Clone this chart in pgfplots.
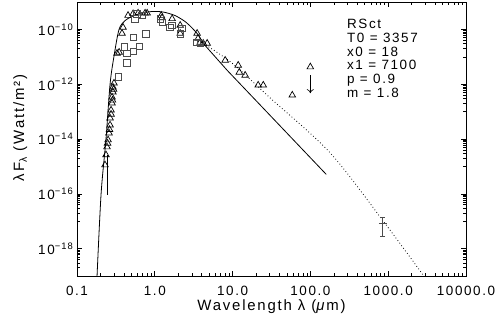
\documentclass[border=0pt]{standalone}
\usepackage{fontspec}
\setmainfont{Liberation Sans}[LetterSpace=12]
\usepackage{pgfplots}
\pgfplotsset{compat=1.18}
\usetikzlibrary{arrows.meta}

\begin{document}
\begin{tikzpicture}
\begin{axis}[
  name=ax,
  width=389bp, height=274bp, scale only axis,
  xmode=log, ymode=log,
  xmin=0.1, xmax=10000, ymin=1e-19, ymax=1e-9,
  xtick={0.1,1,10,100,1000,10000},
  xticklabels={0.1,1.0,10.0,100.0,1000.0,10000.0},
  ytick={1e-18,1e-16,1e-14,1e-12,1e-10},
  yticklabels={10\textsuperscript{−18},10\textsuperscript{−16},10\textsuperscript{−14},10\textsuperscript{−12},10\textsuperscript{−10}},
  minor ytick={1e-19,2e-19,3e-19,4e-19,5e-19,6e-19,7e-19,8e-19,9e-19,
    1e-17,2e-17,3e-17,4e-17,5e-17,6e-17,7e-17,8e-17,9e-17,
    1e-15,2e-15,3e-15,4e-15,5e-15,6e-15,7e-15,8e-15,9e-15,
    1e-13,2e-13,3e-13,4e-13,5e-13,6e-13,7e-13,8e-13,9e-13,
    1e-11,2e-11,3e-11,4e-11,5e-11,6e-11,7e-11,8e-11,9e-11},
  major tick length=5bp, minor tick length=3bp,
  every tick/.style={black, line width=0.6bp},
  axis line style={line width=0.8bp},
  tick label style={font=\fontsize{13.5}{15}\selectfont},
  xticklabel style={yshift=-7bp},
  xlabel={Wavelength λ (\textit{μ}m)},
  ylabel={λF\textsubscript{λ} (Watt/m²)},
  label style={font=\fontsize{15}{17}\selectfont},
  xlabel style={yshift=3bp},
  ylabel style={at={(ticklabel cs:0.54)}, yshift=4bp},
]
% photosphere
\addplot[black, line width=0.8bp, smooth] coordinates {
 (0.181,1e-19) (0.204,1e-16) (0.236,1e-14) (0.266,1e-12) (0.299,1.05e-11)
 (0.347,1e-10) (0.415,2.1e-10) (0.51,2.97e-10) (0.647,3.8e-10) (0.923,4.5e-10)
 (1.28,4.3e-10) (1.82,3.2e-10) (2.53,1.8e-10) (3.5,7.1e-11) (4.19,3.1e-11)};
\addplot[black, line width=0.8bp] coordinates {
 (4.19,3.1e-11) (8.53,3.2e-12) (160,5.1e-16)};
\addplot[black, line width=0.8bp] coordinates {(0.243,2.6e-15) (0.243,9e-17)};
% dust model
\addplot[black, line width=0.8bp, dash pattern=on 0.8bp off 2.4bp, smooth] coordinates {
 (4.19,3.1e-11) (9.9,5.8e-12) (30,3.26e-13) (180,3.1e-15) (893,8.9e-18)
 (2840,1.05e-19) (3500,4.7e-20)};
% photometry
\addplot[only marks, mark=triangle, mark size=3.8bp, mark options={line width=0.7bp, black}] coordinates {
 (0.229,1.13e-15) (0.236,2.62e-15) (0.243,5.12e-15) (0.247,7e-15) (0.251,9.2e-15)
 (0.258,1.65e-14) (0.262,2.2e-14) (0.266,3.23e-14) (0.266,5.8e-14) (0.274,8e-14)
 (0.274,1.13e-13) (0.282,2.04e-13) (0.286,2.6e-13) (0.282,3.37e-13) (0.290,5.12e-13)
 (0.295,6.5e-13) (0.290,7.78e-13) (0.299,1.09e-12)
 (0.327,1.34e-11) (0.348,1.46e-11) (0.379,7.16e-11) (0.391,1.18e-10) (0.453,3.23e-10)
 (0.526,3.73e-10) (0.610,3.92e-10) (0.750,3.92e-10) (0.797,3.92e-10) (1.21,3.23e-10)
 (1.24,2.66e-10) (1.67,2.45e-10) (2.12,1.40e-10) (2.12,7.16e-11) (3.50,7.16e-11)
 (3.6,4.71e-11) (3.83,3.37e-11) (4.19,3.10e-11) (4.71,3.10e-11) (8.03,7.46e-12)
 (11.8,4.91e-12) (12.2,2.73e-12) (14.5,2.12e-12) (21.3,9.2e-13) (24.8,9.2e-13)
 (58.5,3.98e-13) (99.8,4.26e-12)};
\addplot[only marks, mark=square, mark size=3.2bp, mark options={line width=0.7bp, black!70}] coordinates {
 (0.766,6.98e-11) (0.526,5.12e-11) (0.628,2.41e-11) (0.532,1.58e-11) (0.406,2.27e-11)
 (0.437,1.31e-11) (0.437,5.96e-12) (0.340,1.84e-12) (0.586,3.73e-10) (0.681,3.23e-10)
 (0.557,2.45e-10) (1.17,2.4e-10) (1.24,1.80e-10) (1.57,1.21e-10) (1.66,1.40e-10)
 (2.12,6.98e-11) (2.24,1.09e-10) (3.47,3.45e-11) (3.83,3.10e-11)};
% upper limit
\addplot[black, line width=0.6bp, -{To[length=4bp,width=7bp]}] coordinates {(99.8,2.12e-12) (99.8,4.7e-13)};
% submm point
\addplot[black!70, line width=0.6bp, only marks, mark=+, mark size=3.8bp,
  error bars/.cd, y dir=both, y explicit,
  error bar style={line width=0.6bp, black!70},
  error mark options={rotate=90, mark size=2.4bp, line width=0.6bp, black!70}]
  coordinates {(850,8.5e-18) +- (0,5.6e-18)};
\node[anchor=north west, inner sep=0pt, align=left, font=\fontsize{13.5}{13.8}\selectfont]
  at (rel axis cs:0.694,0.938) {RSct\\T0 = 3357\\x0 = 18\\x1 = 7100\\p = 0.9\\m = 1.8};
\end{axis}
\pgfresetboundingbox
\path[use as bounding box] ([shift={(-77bp,-48bp)}]ax.south west) rectangle ([shift={(31bp,2bp)}]ax.north east);
\end{tikzpicture}
\end{document}
